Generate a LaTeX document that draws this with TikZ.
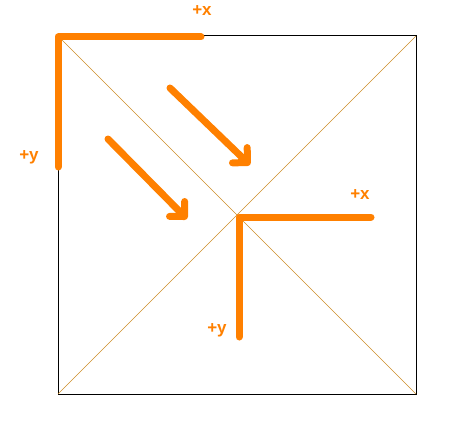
\documentclass[tikz,border=0pt]{standalone}
\usepackage{fontspec}
\setsansfont{Liberation Sans}
\usetikzlibrary{arrows.meta,positioning}
\definecolor{axisorange}{RGB}{255,128,0}
\definecolor{diagline}{RGB}{205,140,40}

\begin{document}
\begin{tikzpicture}[x=1pt,y=-1pt,
  axis/.style={draw=axisorange,line width=7pt,line cap=round,line join=round},
  move/.style={axis,-{Straight Barb[angle=90:15pt,round]}},
  lbl/.style={text=axisorange,font=\sffamily\bfseries\fontsize{17}{17}\selectfont,inner sep=0pt}]
\useasboundingbox (0,0) rectangle (468,433);
% square and diagonals
\coordinate (nw) at (58,36);
\coordinate (ne) at (416,36);
\coordinate (se) at (416,394);
\coordinate (sw) at (58,394);
\draw[line width=1pt] (nw) -- (ne) -- (se) -- (sw) -- cycle;
\draw[diagline,line width=0.5pt] (nw) -- (se) (ne) -- (sw);
%
% axes at the corner
\coordinate (o1)  at (58,37);
\coordinate (x1)  at (201,37);
\coordinate (y1)  at (58,167);
\draw[axis] (y1) -- (o1) -- (x1);
\node[lbl] (lx1) at (202,11)  {+x};
\node[lbl] (ly1) at (29,157)  {+y};
%
% axes at the centre
\coordinate (o2)  at (239,217);
\coordinate (x2)  at (371,217);
\coordinate (y2)  at (239,337);
\draw[axis] (y2) -- (o2) -- (x2);
\node[lbl] (lx2) at (360,195) {+x};
\node[lbl] (ly2) at (217,330) {+y};
%
% moves
\coordinate (a1) at (170,88);
\coordinate (b1) at (250,165);
\coordinate (a2) at (108,139);
\coordinate (b2) at (187,219);
\draw[move] (a1) -- (b1);
\draw[move] (a2) -- (b2);
\end{tikzpicture}
\end{document}
